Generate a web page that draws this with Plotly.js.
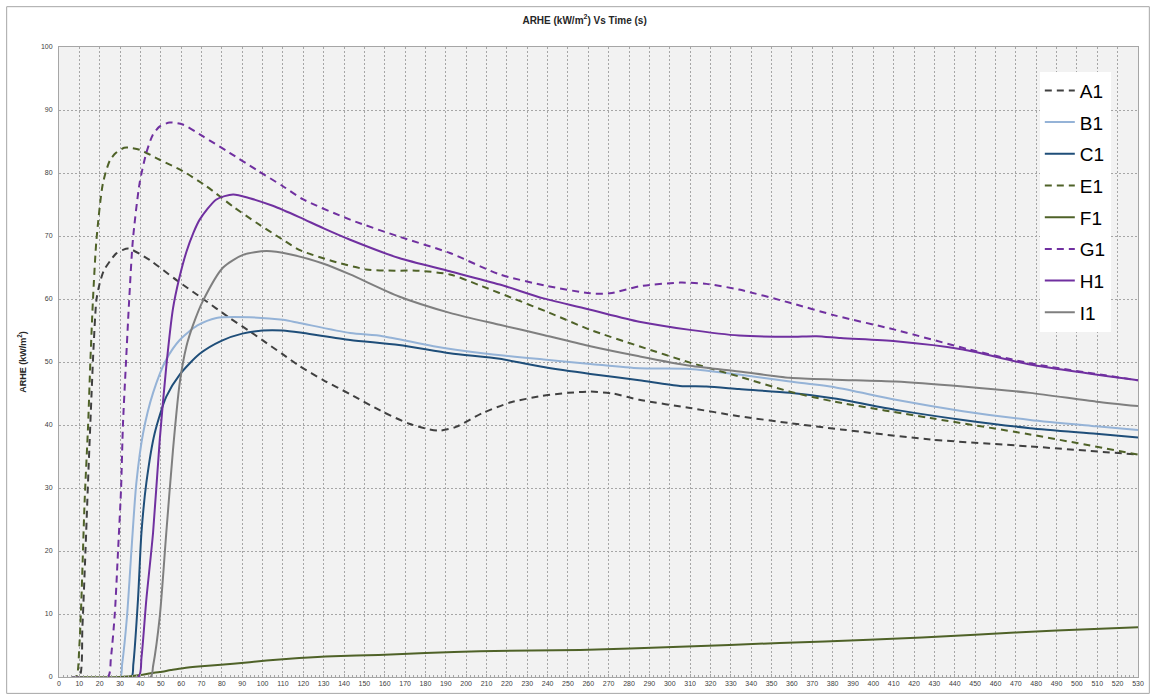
<!DOCTYPE html>
<html>
<head>
<meta charset="utf-8">
<script src="https://cdn.plot.ly/plotly-3.0.1.min.js"></script>
<style>
  html, body { margin: 0; padding: 0; background: #ffffff; }
  #chart { width: 1153px; height: 695px; }
</style>
</head>
<body>
<div id="chart"></div>
<script>
// Apparent rate of heat emission (kW/m²) against time (s) for each specimen.
const tA1 = [6, 10, 11.5, 13, 14.5, 16, 17, 18.4, 20, 22, 25, 28, 31.4, 34, 36, 44.5, 57.7, 70.8, 83.8, 94, 102, 110, 118, 130, 143, 159, 172, 182, 187, 195, 208, 222, 237, 250, 261, 272, 285, 310, 334, 359, 384, 428, 477, 530];
const vA1 = [0, 0, 8, 20, 33, 45, 52.5, 59.9, 62.5, 64.5, 66, 67.2, 67.8, 68, 67.8, 66.2, 63, 60, 57, 54.8, 53, 51.2, 49.4, 47.1, 44.9, 42.1, 40.2, 39.3, 39.1, 39.7, 41.9, 43.6, 44.6, 45.1, 45.3, 45, 44, 42.7, 41.4, 40.3, 39.3, 37.7, 36.6, 35.3];

const tB1 = [6, 30, 31, 33.4, 35.6, 38, 41.3, 46.2, 52.7, 59.3, 68, 77.3, 93.7, 110, 118, 143, 159, 184, 208, 238, 261, 285, 310, 334, 359, 381, 411, 444, 477, 509.5, 530];
const vB1 = [0, 0, 2, 9.6, 20.2, 30.8, 38.7, 45.1, 50.4, 53.5, 55.8, 57, 57.1, 56.7, 56.2, 54.6, 54.1, 52.5, 51.4, 50.4, 49.7, 49, 48.9, 48, 46.9, 46, 44, 42.2, 40.8, 39.8, 39.2];

const tC1 = [6, 35.5, 36.5, 38.8, 40.5, 42.9, 47, 52.7, 59.3, 69.1, 80, 90, 100, 110, 120, 143, 167, 192, 216.5, 238, 261, 285, 305, 318, 334, 359, 381, 411, 444, 477, 509.5, 530];
const vC1 = [0, 0, 2, 12.3, 22.9, 30.8, 38.7, 44.5, 48, 51.3, 53.4, 54.5, 55, 55, 54.6, 53.5, 52.7, 51.4, 50.5, 49.2, 48.1, 47.1, 46.2, 46.1, 45.7, 45.1, 44.2, 42.4, 40.8, 39.5, 38.6, 38];

const tE1 = [6, 8.5, 10, 11, 12.6, 14.3, 15.4, 16.7, 18.4, 21.6, 25, 28, 32, 35, 39.6, 49.5, 60.8, 72.4, 85.4, 97, 110, 118, 134.5, 151, 165, 175.5, 192, 208, 224.6, 241, 261, 285, 310, 334, 359, 381, 428, 477, 530];
const vE1 = [0, 0, 5, 12.3, 28, 40, 50, 60, 69.4, 78.4, 82, 83.2, 84, 84, 83.7, 82.1, 80.3, 77.9, 74.7, 72.1, 69.4, 67.8, 66, 64.7, 64.5, 64.5, 63.9, 62, 59.9, 57.8, 55.1, 52.5, 49.9, 47.7, 45.3, 43.7, 41.1, 38.5, 35.3];

const tF1 = [6, 30, 40, 45, 49.5, 55, 60.9, 70, 85.5, 101.9, 118, 134.6, 157, 180, 206.6, 256, 305, 354, 398, 450, 490, 530];
const vF1 = [0, 0, 0.3, 0.6, 0.8, 1.1, 1.4, 1.7, 2.1, 2.6, 3, 3.3, 3.5, 3.8, 4.1, 4.3, 4.8, 5.4, 5.9, 6.7, 7.4, 7.9];

const tG1 = [6, 24, 25.5, 27.4, 29, 30.5, 31.4, 32.8, 34.4, 36.3, 39.6, 42.9, 46, 49.5, 54.4, 60.8, 70.8, 83.8, 97, 110, 120, 143, 167, 192, 216.5, 239.4, 261, 270.6, 285, 305, 318, 334, 359, 381, 411, 447, 477, 530];
const vG1 = [0, 0, 3, 10, 20, 30, 40, 49.3, 59.4, 69.4, 78.4, 83.2, 86, 87.4, 88, 87.7, 85.8, 83.2, 80.5, 77.9, 75.8, 72.6, 69.9, 67.3, 63.9, 62.1, 60.9, 60.9, 62, 62.6, 62.4, 61.5, 59.4, 57.4, 55.1, 52, 49.8, 47.1];

const tH1 = [6, 39, 40.5, 42.9, 46.2, 49.5, 52.7, 56, 59, 62.6, 66, 69.1, 77.3, 85.5, 93.7, 105, 118, 130, 143, 167, 192, 216.5, 238, 261, 285, 310, 334, 359, 372, 384, 411, 444, 477, 530];
const vH1 = [0, 0, 3, 12.3, 22.9, 37.7, 49.3, 58.5, 63.2, 67.5, 70.5, 72.6, 75.8, 76.6, 76, 74.8, 73, 71.2, 69.4, 66.5, 64.4, 62.3, 60.1, 58.3, 56.4, 55.1, 54.2, 54, 54.1, 53.8, 53.3, 52, 49.6, 47.1];

const tI1 = [6, 45, 46.2, 49.5, 52.7, 56, 59.3, 62.6, 66, 70.7, 80.6, 90.4, 101.9, 113.3, 130, 143, 167, 192, 216.5, 238, 261, 285, 310, 334, 359, 381, 411, 444, 477, 509.5, 530];
const vI1 = [0, 0, 1.7, 9.6, 22.9, 36.1, 46.7, 52.5, 56, 59.7, 65, 67, 67.6, 67.1, 65.6, 63.9, 60.4, 57.8, 55.9, 54.3, 52.5, 50.9, 49.4, 48.5, 47.5, 47.2, 46.9, 46.1, 45.1, 43.7, 43];

const seriesNames = ['A1', 'B1', 'C1', 'E1', 'F1', 'G1', 'H1', 'I1'];
const seriesTimes = [tA1, tB1, tC1, tE1, tF1, tG1, tH1, tI1];
const seriesValues = [vA1, vB1, vC1, vE1, vF1, vG1, vH1, vI1];
const seriesColors = ['#404040', '#95b3d7', '#1f4e79', '#4f6228', '#4f6228', '#7030a0', '#7030a0', '#7f7f7f'];
const seriesDash = ['7px,5px', 'solid', 'solid', '7px,5px', 'solid', '7px,5px', 'solid', 'solid'];

const traces = seriesNames.map((name, i) => ({
  type: 'scatter',
  mode: 'lines',
  name: name,
  legendgroup: name,
  x: seriesTimes[i],
  y: seriesValues[i],
  line: { color: seriesColors[i], width: 2, dash: seriesDash[i], shape: 'spline', smoothing: 0.7 },
  hoverinfo: 'x+y+name'
}));

const tickFont = { family: 'Liberation Sans Narrow, Liberation Sans, Arial, sans-serif', size: 7, color: '#404040' };

const layout = {
  width: 1153,
  height: 695,
  margin: { l: 59, r: 15, t: 47, b: 18, pad: 0 },
  paper_bgcolor: '#ffffff',
  plot_bgcolor: '#f2f2f2',
  showlegend: true,
  title: {
    text: '<b>ARHE (kW/m<sup>2</sup>) Vs Time (s)</b>',
    font: { family: 'Liberation Sans Narrow, Liberation Sans, Arial, sans-serif', size: 10, color: '#262626' },
    x: 0.507, xref: 'container', xanchor: 'center',
    y: 0.971, yref: 'container', yanchor: 'middle'
  },
  xaxis: {
    range: [0, 530],
    dtick: 10,
    tick0: 0,
    tickfont: tickFont,
    showgrid: true,
    gridcolor: '#a6a6a6',
    griddash: '2px,2px',
    gridwidth: 1,
    zeroline: false,
    showline: true,
    mirror: true,
    linecolor: '#a6a6a6',
    linewidth: 1,
    ticks: 'inside',
    ticklen: 3,
    tickcolor: '#a6a6a6',
    minor: { dtick: 2, ticks: 'inside', ticklen: 2, tickcolor: '#a6a6a6', showgrid: false },
    fixedrange: true
  },
  yaxis: {
    range: [0, 100],
    dtick: 10,
    tick0: 0,
    tickfont: tickFont,
    showgrid: true,
    gridcolor: '#a6a6a6',
    griddash: '2px,2px',
    gridwidth: 1,
    zeroline: false,
    showline: true,
    mirror: true,
    linecolor: '#a6a6a6',
    linewidth: 1,
    ticks: '',
    ticklabelstandoff: 4,
    title: {
      text: '<b>ARHE (kW/m<sup>2</sup>)</b>',
      font: { family: 'Liberation Sans Narrow, Liberation Sans, Arial, sans-serif', size: 9, color: '#262626' },
      standoff: 12
    },
    fixedrange: true
  },
  legend: {
    x: 0.909, xanchor: 'left',
    y: 0.961, yanchor: 'top',
    bgcolor: '#ffffff',
    borderwidth: 0,
    font: { family: 'Liberation Sans, Arial, sans-serif', size: 19, color: '#000000' },
    traceorder: 'grouped',
    tracegroupgap: 4,
    itemwidth: 30
  },
  shapes: [{
    type: 'rect',
    xref: 'paper', yref: 'paper',
    x0: -0.0485, x1: 1.0105, y0: -0.026, y1: 1.064,
    line: { color: '#a6a6a6', width: 1 },
    fillcolor: 'rgba(0,0,0,0)',
    layer: 'below'
  }]
};

Plotly.newPlot('chart', traces, layout, { displayModeBar: false, responsive: false });
</script>
</body>
</html>
